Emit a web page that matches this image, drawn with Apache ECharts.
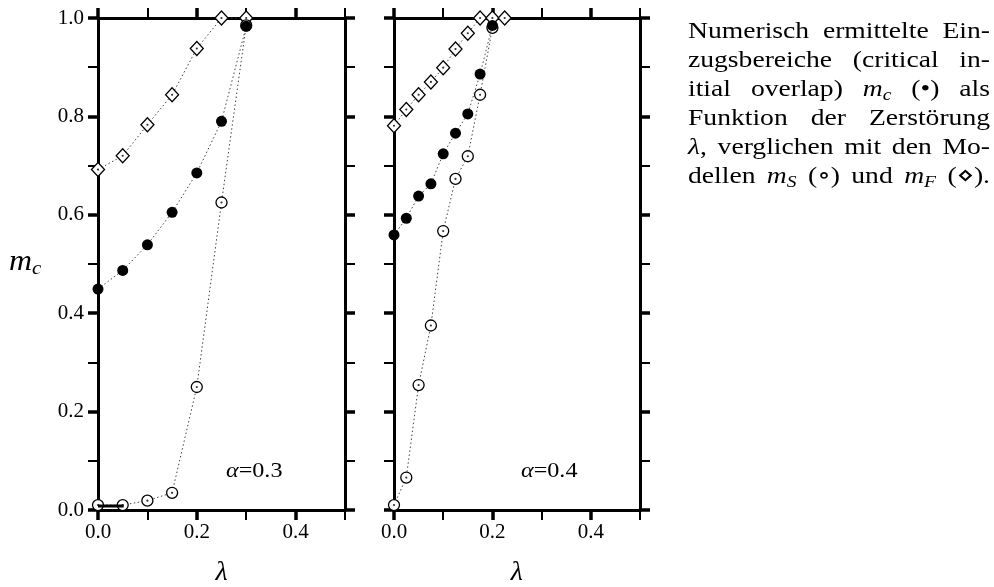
<!DOCTYPE html>
<html><head><meta charset="utf-8">
<script src="https://cdn.jsdelivr.net/npm/echarts@6/dist/echarts.min.js"></script>
<style>html,body{margin:0;padding:0;background:#fff}#c{width:994px;height:587px}</style>
</head><body><div id="c"></div>
<script>
// ---- data ----
const xLeft      = [0, 0.05, 0.10, 0.15, 0.20, 0.25, 0.30];
const mF_left    = [0.692, 0.720, 0.783, 0.844, 0.938, 1.000, 1.000];
const mc_left    = [0.449, 0.487, 0.539, 0.605, 0.685, 0.790, 0.983];
const mS_left    = [0.010, 0.010, 0.019, 0.035, 0.250, 0.625, 0.985];
const segX_left  = [0, 0.052];
const segY_left  = [0.008, 0.008];

const xRightF    = [0, 0.025, 0.05, 0.075, 0.10, 0.125, 0.15, 0.175, 0.20, 0.225];
const mF_right   = [0.781, 0.814, 0.844, 0.870, 0.899, 0.937, 0.969, 1.000, 1.000, 1.000];
const xRight     = [0, 0.025, 0.05, 0.075, 0.10, 0.125, 0.15, 0.175, 0.20];
const mc_right   = [0.559, 0.593, 0.638, 0.663, 0.724, 0.766, 0.805, 0.886, 0.985];
const mS_right   = [0.010, 0.066, 0.254, 0.375, 0.567, 0.673, 0.719, 0.844, 0.980];

const xMinorTicks   = [0, 0.1, 0.2, 0.3, 0.4, 0.5];
const xMajorTicks   = [0, 0.2, 0.4];
const xTickLabels   = ['0.0', '0.2', '0.4'];
const yMinorTicks   = [0, 0.1, 0.2, 0.3, 0.4, 0.5, 0.6, 0.7, 0.8, 0.9, 1.0];
const yMajorTicks   = [0, 0.2, 0.4, 0.6, 0.8, 1.0];
const yTickLabels   = ['0.0', '0.2', '0.4', '0.6', '0.8', '1.0'];
const panelLabels   = ['0.3', '0.4'];

// ---- helpers ----
const FONT = '"Liberation Serif", "DejaVu Serif", serif';
const SX = 1.15;
const ctx = document.createElement('canvas').getContext('2d');
function measure(t, size, italic) {
  ctx.font = (italic ? 'italic ' : '') + size + 'px ' + FONT;
  return ctx.measureText(t).width;
}
const STY = {
  n:   {size: 24, italic: false, dy: 0},
  i:   {size: 24, italic: true,  dy: 0},
  sub: {size: 17, italic: true,  dy: 6}
};
function segWidth(segs, sty, sx) {
  let w = 0;
  segs.forEach(s => { const st = sty[s[1]]; w += measure(s[0], st.size, st.italic) * sx; });
  return w;
}
function segEls(segs, x, y, sty, sx) {
  const els = [];
  segs.forEach(s => {
    const st = sty[s[1]];
    els.push({type: 'text', x: x, y: y + st.dy, scaleX: sx, silent: true,
      style: {text: s[0], fontSize: st.size, fontFamily: FONT, fontStyle: st.italic ? 'italic' : 'normal',
              fill: '#000', align: 'left', verticalAlign: 'middle'}});
    x += measure(s[0], st.size, st.italic) * sx;
  });
  return els;
}

// caption (words as segment lists)
const captionLines = [
  [[['Numerisch','n']], [['ermittelte','n']], [['Ein-','n']]],
  [[['zugsbereiche','n']], [['(critical','n']], [['in-','n']]],
  [[['itial','n']], [['overlap)','n']], [['m','i'],['c','sub']], [['(•)','n']], [['als','n']]],
  [[['Funktion','n']], [['der','n']], [['Zerstörung','n']]],
  [[['λ','i'],[',','n']], [['verglichen','n']], [['mit','n']], [['den','n']], [['Mo-','n']]],
  [[['dellen','n']], [['m','i'],['S','sub']], [['(∘)','n']], [['und','n']], [['m','i'],['F','sub']], [['(⋄).','n']]]
];
const capL = 688, capR = 990, capY0 = 32, capDY = 29;
const graphics = [];
captionLines.forEach((words, li) => {
  const ws = words.map(w => segWidth(w, STY, SX));
  const tot = ws.reduce((a, b) => a + b, 0);
  const gap = (capR - capL - tot) / (words.length - 1);
  let x = capL;
  words.forEach((w, wi) => {
    segEls(w, x, capY0 + li * capDY, STY, SX).forEach(e => graphics.push(e));
    x += ws[wi] + gap;
  });
});

// panel annotations alpha = ...
const ASTY = {i: {size: 21, italic: true, dy: 0}, n: {size: 21, italic: false, dy: 0}};
[[226, 471], [521, 471]].forEach((p, k) => {
  segEls([['α','i'], ['=' + panelLabels[k], 'n']], p[0], p[1], ASTY, 1.15).forEach(e => graphics.push(e));
});
// y-axis name m_c
const NSTY = {i: {size: 29, italic: true, dy: 0}, sub: {size: 19, italic: true, dy: 7}};
segEls([['m','i'], ['c','sub']], 9, 262, NSTY, 1.1).forEach(e => graphics.push(e));
// x-axis names lambda
[221.5, 516.7].forEach(cx => {
  graphics.push({type: 'text', x: cx, y: 573, silent: true,
    style: {text: 'λ', fontSize: 28, fontFamily: FONT, fontStyle: 'italic', fill: '#000', align: 'center', verticalAlign: 'middle'}});
});

// ---- axes ----
const grids = [
  {left: 98, top: 18, width: 247, height: 492},
  {left: 394, top: 18, width: 246, height: 492}
];
function xAx(g, pos, major, labels) {
  return {gridIndex: g, type: 'value', min: 0, max: 0.5, position: pos,
    axisLine: {show: !major, onZero: false, lineStyle: {color: '#000', width: 3}},
    axisTick: {show: true, inside: false, length: 10, customValues: major ? xMajorTicks : xMinorTicks,
               lineStyle: {color: '#000', width: major ? 3.5 : 2}},
    axisLabel: {show: !!labels, customValues: xMajorTicks, margin: 12,
      formatter: v => xTickLabels[xMajorTicks.findIndex(t => Math.abs(t - v) < 1e-9)] || '',
      fontFamily: FONT, fontSize: 21, color: '#000'},
    splitLine: {show: false}};
}
function yAx(g, pos, major, labels) {
  return {gridIndex: g, type: 'value', min: 0, max: 1, position: pos,
    axisLine: {show: !major, onZero: false, lineStyle: {color: '#000', width: 3}},
    axisTick: {show: true, inside: false, length: 10, customValues: major ? yMajorTicks : yMinorTicks,
               lineStyle: {color: '#000', width: major ? 3.5 : 2}},
    axisLabel: {show: !!labels, customValues: yMajorTicks, margin: 14,
      formatter: v => yTickLabels[yMajorTicks.findIndex(t => Math.abs(t - v) < 1e-9)] || '',
      fontFamily: FONT, fontSize: 21, color: '#000'},
    splitLine: {show: false}};
}
const xAxes = [], yAxes = [];
[0, 1].forEach(g => {
  xAxes.push(xAx(g, 'bottom', false, false), xAx(g, 'bottom', true, true),
             xAx(g, 'top', false, false), xAx(g, 'top', true, false));
  yAxes.push(yAx(g, 'left', false, false), yAx(g, 'left', true, g === 0),
             yAx(g, 'right', false, false), yAx(g, 'right', true, false));
});

// ---- series ----
const DOT = {color: '#444', width: 1, type: [1.5, 2.5]};
function pairs(xs, ys) { return xs.map((x, i) => [x, ys[i]]); }
function lineS(g, xs, ys, symbol, size, fill, z) {
  return {type: 'line', xAxisIndex: g * 4, yAxisIndex: g * 4, data: pairs(xs, ys),
    symbol: symbol, symbolSize: size, showSymbol: true, silent: true, z: z,
    itemStyle: {color: fill, borderColor: '#000', borderWidth: fill === '#000' ? 0 : 1.3},
    lineStyle: DOT, emphasis: {disabled: true}};
}
function dotS(g, xs, ys) {
  return {type: 'scatter', xAxisIndex: g * 4, yAxisIndex: g * 4, data: pairs(xs, ys),
    symbol: 'circle', symbolSize: 2.2, itemStyle: {color: '#000'}, silent: true, z: 6};
}
const series = [
  lineS(0, xLeft, mF_left, 'diamond', [13, 14], '#fff', 2),
  lineS(0, xLeft, mS_left, 'circle', 11, '#fff', 3),
  dotS(0, xLeft, mF_left), dotS(0, xLeft, mS_left),
  lineS(0, xLeft, mc_left, 'circle', 11, '#000', 7),
  {type: 'line', xAxisIndex: 0, yAxisIndex: 0, data: pairs(segX_left, segY_left), symbol: 'none',
   lineStyle: {color: '#000', width: 3}, silent: true, z: 8},
  lineS(1, xRightF, mF_right, 'diamond', [13, 14], '#fff', 2),
  lineS(1, xRight, mS_right, 'circle', 11, '#fff', 3),
  dotS(1, xRightF, mF_right), dotS(1, xRight, mS_right),
  lineS(1, xRight, mc_right, 'circle', 11, '#000', 7)
];

const chart = echarts.init(document.getElementById('c'));
chart.setOption({
  animation: false,
  backgroundColor: '#fff',
  grid: grids,
  xAxis: xAxes,
  yAxis: yAxes,
  series: series,
  graphic: graphics
});
</script></body></html>
